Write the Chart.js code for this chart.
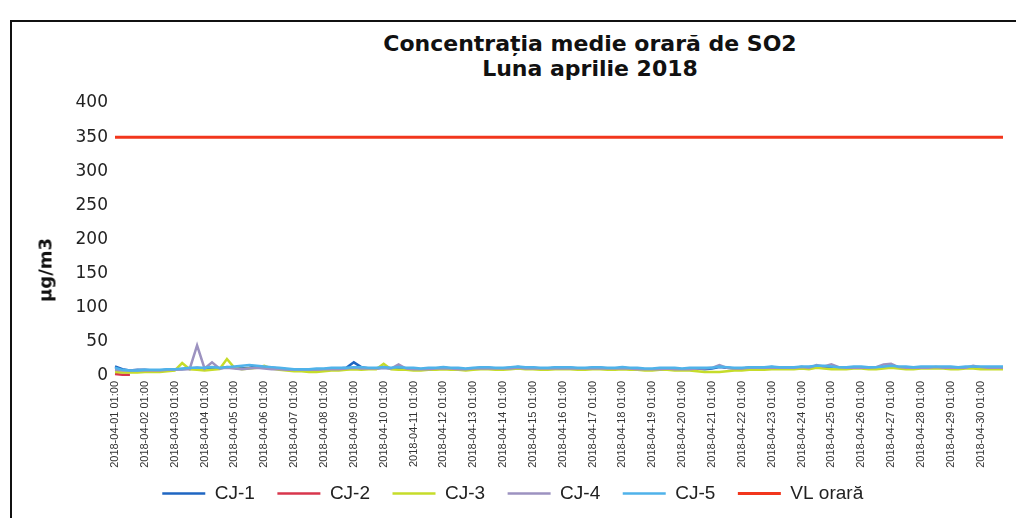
<!DOCTYPE html>
<html>
<head>
<meta charset="utf-8">
<script src="https://cdn.jsdelivr.net/npm/chart.js@4"></script>
<style>
  html, body { margin: 0; padding: 0; background: #fff; width: 1016px; height: 518px; overflow: hidden; }
  #frame { position: absolute; left: 10px; top: 20px; width: 1020px; height: 520px; border-left: 2px solid #111; border-top: 2px solid #111; }
  #box { position: absolute; left: 12px; top: 22px; width: 1004px; height: 496px; }
  #title { position: absolute; left: 340px; top: 31px; width: 500px; text-align: center;
           font: bold 22px "DejaVu Sans", sans-serif; line-height: 25px; color: #111; }
  #ytitle { position: absolute; left: 45px; top: 270px; transform: translate(-50%, -50%) rotate(-90deg);
            font: bold 18px "DejaVu Sans", sans-serif; color: #111; white-space: nowrap; }
</style>
</head>
<body>
<div id="frame"></div>
<div id="title">Concentrația medie orară de SO2<br>Luna aprilie 2018</div>
<div id="box"><canvas id="myChart"></canvas></div>
<div id="ytitle">µg/m3</div>
<script>
// 6-hour samples through April 2018
const days = [];
for (let d = 1; d <= 30; d++) days.push("2018-04-" + String(d).padStart(2, "0"));
const hours = ["01:00", "07:00", "13:00", "19:00"];
const labels = [];
days.forEach(d => hours.forEach(h => labels.push(d + " " + h)));

const yTicks = [0, 50, 100, 150, 200, 250, 300, 350, 400];

const cj1 = [
  14, 10, 8, 9, 9, 8, 8, 9, 10, 10,
  11, 12, 11, 12, 11, 13, 12, 11, 12, 14,
  13, 12, 11, 10, 10, 9, 9, 10, 10, 11,
  11, 12, 20, 13, 11, 11, 12, 11, 12, 11,
  10, 10, 11, 11, 12, 11, 10, 10, 11, 12,
  12, 11, 11, 12, 13, 12, 12, 11, 11, 12,
  12, 12, 11, 11, 12, 12, 11, 11, 12, 11,
  11, 10, 10, 11, 11, 10, 10, 11, 11, 10,
  11, 13, 12, 11, 11, 12, 12, 12, 13, 12,
  12, 12, 13, 12, 13, 14, 13, 12, 12, 13,
  13, 12, 12, 13, 14, 13, 12, 12, 12, 13,
  13, 13, 12, 12, 12, 13, 13, 13, 12, 12
];
const cj2 = [3, 2, 2];
const cj3 = [
  6, 5, 5, 5, 6, 6, 6, 7, 8, 19,
  10, 9, 8, 9, 10, 25, 12, 10, 11, 12,
  15, 11, 9, 8, 7, 7, 6, 6, 7, 8,
  8, 9, 10, 9, 10, 10, 18, 10, 9, 9,
  8, 8, 9, 9, 10, 9, 9, 8, 9, 10,
  10, 9, 9, 10, 11, 10, 10, 9, 9, 10,
  10, 10, 9, 9, 10, 10, 9, 9, 10, 9,
  9, 8, 8, 9, 9, 8, 8, 8, 7, 6,
  6, 6, 7, 8, 8, 9, 9, 9, 10, 10,
  10, 10, 11, 10, 12, 11, 10, 10, 10, 11,
  11, 10, 10, 11, 12, 11, 10, 10, 11, 11,
  11, 11, 10, 10, 11, 11, 10, 10, 10, 10
];
const cj4 = [
  9, 8, 8, 8, 8, 8, 8, 9, 9, 10,
  10, 45, 11, 20, 11, 12, 11, 10, 11, 12,
  11, 10, 10, 9, 9, 9, 9, 9, 10, 10,
  10, 11, 12, 11, 11, 11, 12, 11, 17, 11,
  10, 10, 10, 11, 11, 11, 10, 10, 11, 11,
  11, 11, 11, 11, 12, 11, 11, 11, 11, 11,
  11, 11, 11, 11, 11, 11, 11, 11, 11, 11,
  10, 10, 10, 10, 11, 10, 10, 10, 11, 11,
  12, 16, 12, 11, 11, 12, 12, 12, 12, 12,
  12, 12, 13, 12, 16, 14, 17, 13, 12, 12,
  12, 12, 13, 17, 18, 13, 12, 12, 12, 12,
  13, 12, 12, 12, 12, 15, 13, 12, 12, 12
];
const cj5 = [
  12, 9, 8, 8, 9, 9, 9, 10, 10, 11,
  12, 12, 12, 13, 12, 13, 14, 15, 16, 15,
  14, 13, 12, 11, 10, 10, 10, 11, 11, 12,
  12, 12, 13, 13, 12, 12, 13, 12, 13, 12,
  12, 11, 12, 12, 13, 12, 12, 11, 12, 13,
  13, 12, 12, 13, 14, 13, 13, 12, 12, 13,
  13, 13, 12, 12, 13, 13, 12, 12, 13, 12,
  12, 11, 11, 12, 12, 12, 11, 12, 12, 12,
  12, 14, 13, 12, 12, 13, 13, 13, 14, 13,
  13, 13, 14, 14, 15, 15, 14, 13, 13, 14,
  14, 13, 13, 14, 15, 14, 14, 13, 14, 14,
  14, 14, 14, 13, 14, 14, 14, 14, 14, 14
];
const vlOrara = labels.map(() => 350);

function line(label, values, color, order, width) {
  return {
    label: label,
    data: values,
    borderColor: color,
    backgroundColor: color,
    borderWidth: width || 2.5,
    pointRadius: 0,
    pointStyle: "line",
    tension: 0,
    order: order
  };
}

const ctx = document.getElementById("myChart");

let config = {
  type: "line",
  data: {
    labels: labels,
    datasets: [
      line("CJ-1", cj1, "#1f66c2", 4),
      line("CJ-2", cj2, "#d8364c", 5),
      line("CJ-3", cj3, "#c6dc2a", 3),
      line("CJ-4", cj4, "#9c92c0", 2),
      line("CJ-5", cj5, "#4fb2ea", 1),
      line("VL orară", vlOrara, "#f2361c", 0, 3)
    ]
  },
  options: {
    responsive: true,
    maintainAspectRatio: false,
    animation: false,
    layout: { padding: { top: 81, left: 20, right: 13, bottom: 5 } },
    plugins: {
      tooltip: { enabled: false },
      legend: {
        position: "bottom",
        labels: {
          usePointStyle: true,
          pointStyleWidth: 43,
          padding: 13,
          color: "#222",
          font: { family: "Liberation Sans", size: 19 },
          sort: (a, b) => a.datasetIndex - b.datasetIndex,
          generateLabels: chart => {
            // extra gap after each entry, like the original legend
            const items = Chart.defaults.plugins.legend.labels.generateLabels(chart);
            items.forEach(it => { it.text = it.text + "\u2002"; });
            return items;
          }
        }
      }
    },
    scales: {
      y: {
        min: 0,
        max: 400,
        afterFit: s => { s.width = 83; },
        afterBuildTicks: s => { s.ticks = yTicks.map(v => ({ value: v })); },
        grid: { display: false, drawTicks: false },
        border: { display: false },
        ticks: { padding: 7, color: "#222", font: { family: "DejaVu Sans", size: 17 } }
      },
      x: {
        afterFit: s => { s.height = 95; },
        grid: { display: false, drawTicks: false },
        border: { display: false },
        ticks: {
          autoSkip: false,
          minRotation: 90,
          maxRotation: 90,
          padding: 5,
          color: "#333",
          font: { family: "Liberation Sans", size: 11 },
          callback: function (v, i) { return i % 4 === 0 ? this.getLabelForValue(v) : null; }
        }
      }
    }
  }
};

let myChart = new Chart(ctx, config);
</script>
</body>
</html>
